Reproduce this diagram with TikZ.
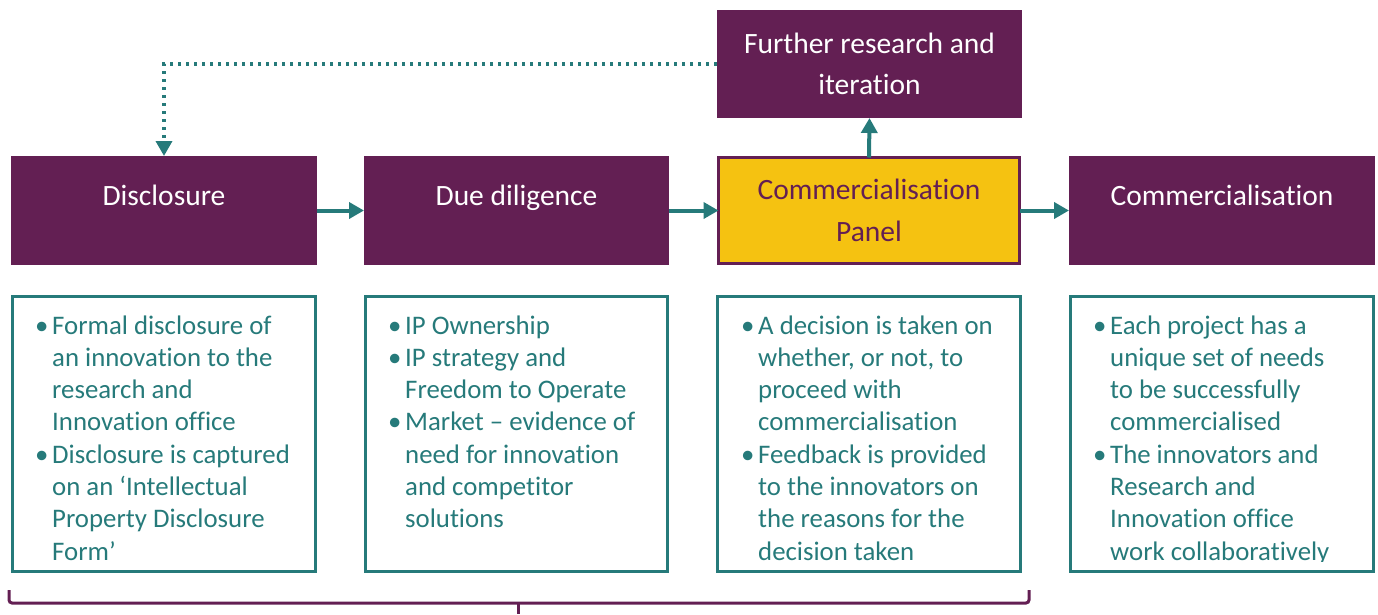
\documentclass[tikz,border=0pt]{standalone}
\usepackage{fontspec}
\setmainfont{Carlito}[Ligatures=NoCommon]
\usetikzlibrary{arrows.meta}
\definecolor{plum}{RGB}{99,31,83}
\definecolor{tealc}{RGB}{38,122,122}
\definecolor{gold}{RGB}{245,194,17}
\newcommand\bl{\makebox[17pt][l]{•}}
\newcommand\ind{\hspace*{17pt}}
\tikzset{
  hdr/.style={rectangle, fill=plum, draw=none, minimum width=306pt, minimum height=109pt,
    inner sep=0pt, outer sep=0pt, text=white, font=\fontsize{29.5}{41.5}\selectfont, align=center},
  panelbox/.style={hdr, fill=gold, draw=plum, line width=3pt, minimum width=301pt, minimum height=106pt, text=plum},
  infobox/.style={rectangle, draw=tealc, line width=3pt, minimum width=303pt, minimum height=275pt,
    inner sep=0pt, outer sep=0pt},
  bultext/.style={anchor=base west, inner sep=0pt, text=tealc, font=\fontsize{26.8}{32.3}\selectfont},
  flow/.style={draw=tealc, line width=4pt, -{Triangle[length=15pt,width=16pt]}},
  loopback/.style={draw=tealc, line width=3.5pt, dash pattern=on 3pt off 5pt, -{Triangle[length=15pt,width=16pt]}},
  bracket/.style={draw=plum, line width=3pt, rounded corners=3pt}
}
\begin{document}
\begin{tikzpicture}[x=1pt,y=-1pt]
\useasboundingbox (0,0) rectangle (1378,614);
% header boxes
\node[hdr, text depth=30pt] (disc) at (164,210.5) {Disclosure};
\node[hdr, minimum width=305pt, text depth=30pt] (due) at (516.5,210.5) {Due diligence};
\node[panelbox] (panel) at (869,210.5) {Commercialisation\\Panel};
\node[hdr, text depth=30pt] (comm) at (1222,210.5) {Commercialisation};
\node[hdr, minimum width=305pt, minimum height=108pt] (further) at (869.5,64) {Further research and\\iteration};
% connectors
\draw[flow] (disc.east) -- (due.west);
\draw[flow] (due.east) -- (panel.west);
\draw[flow] (panel.east) -- (comm.west);
\draw[flow] (panel.north) -- (further.south);
\draw[loopback] (further.west) -| (disc.north);
% info boxes
\node[infobox] (i1) at (164,434) {};
\node[infobox, minimum width=302pt] (i2) at (516.5,434) {};
\node[infobox] (i3) at (869,434) {};
\node[infobox] (i4) at (1222,434) {};
\node[bultext] (t1) at (35,334) {\parbox[t]{280pt}{\raggedright
\bl Formal disclosure of\\
\ind an innovation to the\\
\ind research and\\
\ind Innovation office\\
\bl Disclosure is captured\\
\ind on an ‘Intellectual\\
\ind Property Disclosure\\
\ind Form’}};
\node[bultext] (t2) at (388,334) {\parbox[t]{280pt}{\raggedright
\bl IP Ownership\\
\bl IP strategy and\\
\ind Freedom to Operate\\
\bl Market – evidence of\\
\ind need for innovation\\
\ind and competitor\\
\ind solutions}};
\node[bultext] (t3) at (741,334) {\parbox[t]{280pt}{\raggedright
\bl A decision is taken on\\
\ind whether, or not, to\\
\ind proceed with\\
\ind commercialisation\\
\bl Feedback is provided\\
\ind to the innovators on\\
\ind the reasons for the\\
\ind decision taken}};
\begin{scope}
\clip (1069,295) rectangle (1375,561);
\node[bultext] (t4) at (1093,334) {\parbox[t]{280pt}{\raggedright
\bl Each project has a\\
\ind unique set of needs\\
\ind to be successfully\\
\ind commercialised\\
\bl The innovators and\\
\ind Research and\\
\ind Innovation office\\
\ind work collaboratively}};
\end{scope}
% bracket
\coordinate (bl) at (9,590);
\coordinate (br) at (1029,590);
\coordinate (bm) at (518,603);
\coordinate (bt) at (518,614);
\draw[bracket] (bl) -- (bl |- bm) -- (br |- bm) -- (br);
\draw[bracket] (bm) -- (bt);
\end{tikzpicture}
\end{document}
